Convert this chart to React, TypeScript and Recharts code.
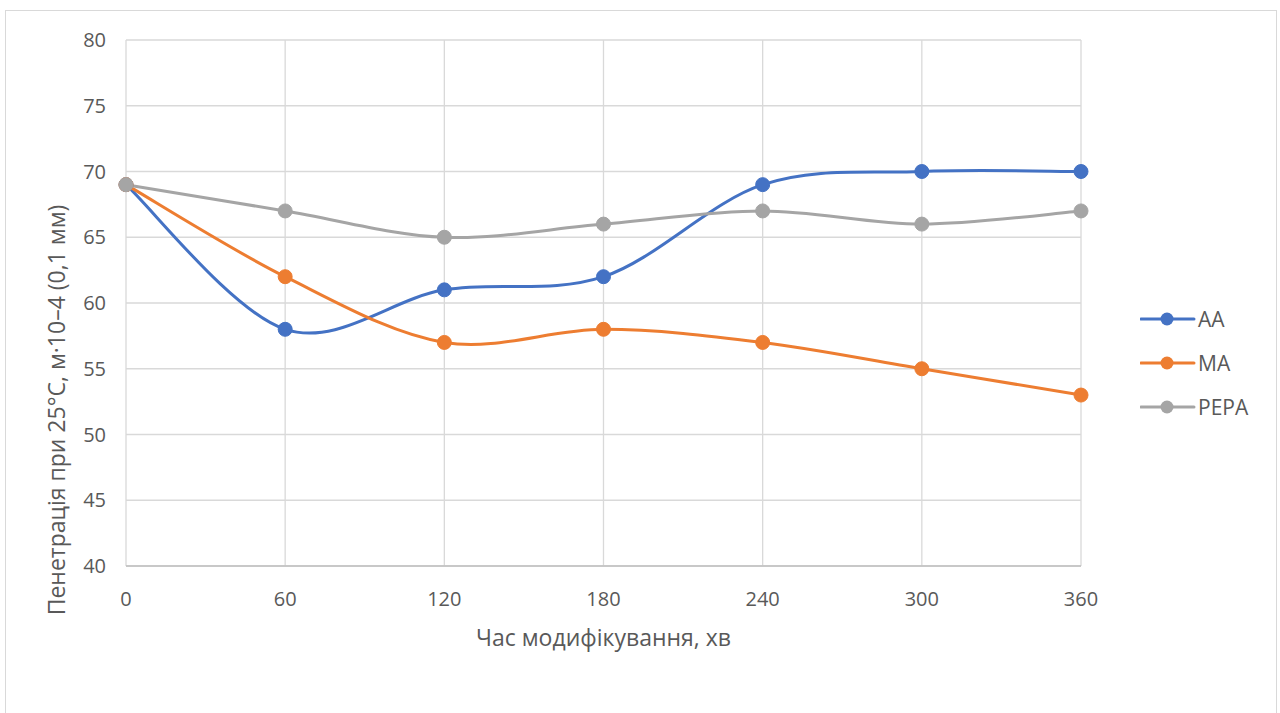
import React from "react";
import {
  LineChart,
  Line,
  XAxis,
  YAxis,
  CartesianGrid,
  Legend,
  Label,
} from "recharts";

// modification time, min
const times = [0, 60, 120, 180, 240, 300, 360];
// penetration at 25°C for each modifier
const aaValues = [69, 58, 61, 62, 69, 70, 70];
const maValues = [69, 62, 57, 58, 57, 55, 53];
const pepaValues = [69, 67, 65, 66, 67, 66, 67];
const yTicks = [40, 45, 50, 55, 60, 65, 70, 75, 80];

const series = [
  { key: "AA", color: "#4472C4", values: aaValues },
  { key: "MA", color: "#ED7D31", values: maValues },
  { key: "PEPA", color: "#A5A5A5", values: pepaValues },
];

const data = times.map((t, i) => ({
  t,
  AA: aaValues[i],
  MA: maValues[i],
  PEPA: pepaValues[i],
}));

const FONT = "'Open Sans', sans-serif";
const TEXT = "#595959";

// Excel-style smoothed line: Catmull-Rom segments as cubic Béziers
const smoothCurve = (context: any) => {
  let pts: [number, number][] = [];
  return {
    areaStart() {},
    areaEnd() {},
    lineStart() {
      pts = [];
    },
    lineEnd() {
      if (!pts.length) return;
      context.moveTo(pts[0][0], pts[0][1]);
      const n = pts.length;
      for (let i = 0; i < n - 1; i++) {
        const p0 = pts[Math.max(i - 1, 0)];
        const p1 = pts[i];
        const p2 = pts[i + 1];
        const p3 = pts[Math.min(i + 2, n - 1)];
        context.bezierCurveTo(
          p1[0] + (p2[0] - p0[0]) / 6,
          p1[1] + (p2[1] - p0[1]) / 6,
          p2[0] - (p3[0] - p1[0]) / 6,
          p2[1] - (p3[1] - p1[1]) / 6,
          p2[0],
          p2[1]
        );
      }
    },
    point(x: number, y: number) {
      pts.push([+x, +y]);
    },
  };
};

const renderLegend = (props: any) => {
  const { payload = [] } = props;
  return (
    <div style={{ paddingLeft: 59, paddingTop: 4 }}>
      {payload.map((entry: any) => (
        <div
          key={entry.value}
          style={{ display: "flex", alignItems: "center", height: 44 }}
        >
          <svg width={56} height={16}>
            <line x1={1} y1={8} x2={54} y2={8} stroke={entry.color} strokeWidth={3} strokeLinecap="round" />
            <circle cx={27} cy={8} r={6.5} fill={entry.color} />
          </svg>
          <span style={{ fontFamily: FONT, fontSize: 21, color: TEXT, marginLeft: 2 }}>
            {entry.value}
          </span>
        </div>
      ))}
    </div>
  );
};

export default function App() {
  return (
    <div
      style={{
        position: "absolute",
        left: 5,
        top: 10,
        width: 1270,
        height: 720,
        border: "1px solid #D9D9D9",
        background: "#fff",
      }}
    >
      <LineChart
        width={1270}
        height={700}
        data={data}
        margin={{ top: 29, right: 27, left: 0, bottom: 105 }}
      >
        <CartesianGrid stroke="#D9D9D9" strokeWidth={1.3} />
        <XAxis
          dataKey="t"
          type="number"
          domain={[0, 360]}
          ticks={times}
          height={40}
          tickSize={0}
          tickMargin={26}
          axisLine={{ stroke: "#BFBFBF", strokeWidth: 1.3 }}
          tick={{ fontFamily: FONT, fontSize: 20, fill: TEXT }}
        >
          <Label
            content={(p: any) => (
              <text
                x={p.viewBox.x + p.viewBox.width / 2}
                y={635}
                textAnchor="middle"
                fontFamily={FONT}
                fontSize={23}
                fill={TEXT}
              >
                Час модифікування, хв
              </text>
            )}
          />
        </XAxis>
        <YAxis
          type="number"
          domain={[40, 80]}
          ticks={yTicks}
          width={120}
          tickSize={0}
          tickMargin={20}
          axisLine={false}
          tick={{ fontFamily: FONT, fontSize: 20, fill: TEXT }}
        >
          <Label
            content={() => (
              <text
                x={0}
                y={0}
                transform="translate(59 399) rotate(-90)"
                textAnchor="middle"
                fontFamily={FONT}
                fontSize={23}
                fill={TEXT}
              >
                Пенетрація при 25°С, м·10–4 (0,1 мм)
              </text>
            )}
          />
        </YAxis>
        <Legend
          layout="vertical"
          align="right"
          verticalAlign="middle"
          wrapperStyle={{ width: 168 }}
          content={renderLegend}
        />
        {series.map((s) => (
          <Line
            key={s.key}
            dataKey={s.key}
            name={s.key}
            type={smoothCurve as any}
            stroke={s.color}
            strokeWidth={3}
            dot={{ r: 7, fill: s.color, stroke: s.color, strokeWidth: 1 }}
            activeDot={false}
            isAnimationActive={false}
          />
        ))}
      </LineChart>
    </div>
  );
}
